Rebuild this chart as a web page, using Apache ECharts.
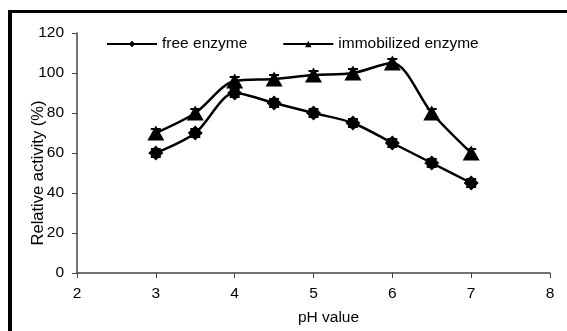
<!DOCTYPE html>
<html>
<head>
<meta charset="utf-8">
<script src="https://cdn.jsdelivr.net/npm/echarts@6/dist/echarts.min.js"></script>
<style>
  html, body { margin: 0; padding: 0; background: #fff; }
  #frame { position: absolute; left: 8px; top: 10px; width: 600px; height: 340px;
           border-left: 4px solid #000; border-top: 3px solid #000; }
  #main { position: absolute; left: 0; top: 0; width: 567px; height: 331px; }
</style>
</head>
<body>
<div id="frame"></div>
<div id="main"></div>
<script>
const phValues = [3, 3.5, 4, 4.5, 5, 5.5, 6, 6.5, 7];
const freeEnzyme = [60, 70, 90, 85, 80, 75, 65, 55, 45];
const immobilizedEnzyme = [70, 80, 96, 97, 99, 100, 105, 80, 60];
const freeError = [2, 2, 2, 2, 2, 2, 2, 2, 2];
const immobilizedError = [2, 2, 2, 2, 2, 2, 2, 2, 2];

const font = 'Liberation Sans, Arial, sans-serif';
const fontSize = 15.5;

function pairs(ys) {
  return phValues.map((x, i) => [x, ys[i]]);
}

function errorData(ys, errs) {
  return phValues.map((x, i) => [x, ys[i] - errs[i], ys[i] + errs[i]]);
}

function renderError(params, api) {
  const x = api.value(0);
  const lo = api.coord([x, api.value(1)]);
  const hi = api.coord([x, api.value(2)]);
  const w = 5;
  const style = { stroke: '#000', lineWidth: 2 };
  return {
    type: 'group',
    children: [
      { type: 'line', shape: { x1: lo[0], y1: lo[1], x2: hi[0], y2: hi[1] }, style },
      { type: 'line', shape: { x1: hi[0] - w, y1: hi[1], x2: hi[0] + w, y2: hi[1] }, style },
      { type: 'line', shape: { x1: lo[0] - w, y1: lo[1], x2: lo[0] + w, y2: lo[1] }, style }
    ]
  };
}

const chart = echarts.init(document.getElementById('main'));
chart.setOption({
  animation: false,
  textStyle: { fontFamily: font },
  grid: { left: 77, right: 17, top: 33, bottom: 57 },
  legend: {
    top: 31,
    left: 101,
    itemWidth: 50,
    itemHeight: 8,
    itemGap: 35,
    textStyle: { fontFamily: font, fontSize: fontSize, color: '#000' },
    data: ['free enzyme', 'immobilized enzyme']
  },
  xAxis: {
    type: 'value',
    min: 2,
    max: 8,
    interval: 1,
    name: 'pH value',
    nameLocation: 'middle',
    nameGap: 37,
    nameMoveOverlap: false,
    nameTextStyle: { fontFamily: font, fontSize: fontSize, color: '#000', padding: [0, 0, 0, 30] },
    axisLine: { lineStyle: { color: '#444', width: 1.5 } },
    axisTick: { length: 5, lineStyle: { color: '#444' } },
    axisLabel: { fontFamily: font, fontSize: fontSize, color: '#000', margin: 13 },
    splitLine: { show: false }
  },
  yAxis: {
    type: 'value',
    min: 0,
    max: 120,
    interval: 20,
    name: 'Relative activity (%)',
    nameLocation: 'middle',
    nameGap: 30,
    nameMoveOverlap: false,
    nameTextStyle: { fontFamily: font, fontSize: 16.5, color: '#000', padding: [0, 40, 0, 0] },
    axisLine: { show: true, lineStyle: { color: '#444', width: 1.5 } },
    axisTick: { show: true, length: 5, lineStyle: { color: '#444' } },
    axisLabel: { fontFamily: font, fontSize: fontSize, color: '#000', margin: 13 },
    splitLine: { show: false }
  },
  series: [
    {
      name: 'free enzyme',
      type: 'line',
      smooth: 0.3,
      data: pairs(freeEnzyme),
      symbol: 'diamond',
      symbolSize: 15,
      itemStyle: { color: '#000' },
      lineStyle: { color: '#000', width: 2.5 },
      z: 3
    },
    {
      name: 'immobilized enzyme',
      type: 'line',
      smooth: 0.3,
      data: pairs(immobilizedEnzyme),
      symbol: 'triangle',
      symbolSize: [17, 15],
      itemStyle: { color: '#000' },
      lineStyle: { color: '#000', width: 2.5 },
      z: 3
    },
    {
      type: 'custom',
      renderItem: renderError,
      data: errorData(freeEnzyme, freeError),
      encode: { x: 0, y: [1, 2] },
      z: 4,
      silent: true
    },
    {
      type: 'custom',
      renderItem: renderError,
      data: errorData(immobilizedEnzyme, immobilizedError),
      encode: { x: 0, y: [1, 2] },
      z: 4,
      silent: true
    }
  ]
});
</script>
</body>
</html>
